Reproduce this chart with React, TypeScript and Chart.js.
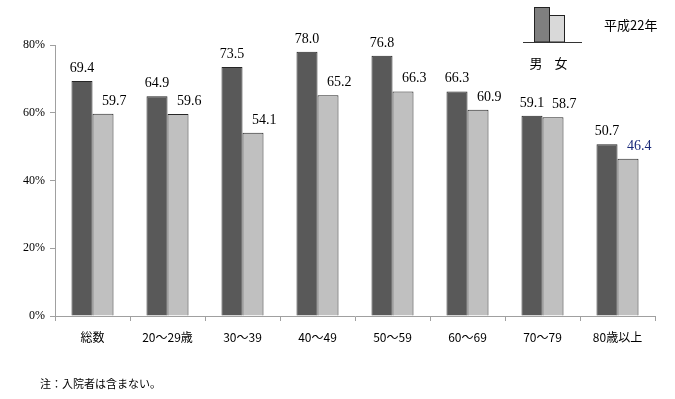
import React, { useEffect, useRef } from "react";
import { Chart, registerables } from "chart.js";

Chart.register(...registerables);

const categories = ["総数", "20～29歳", "30～39", "40～49", "50～59", "60～69", "70～79", "80歳以上"];
const male = [69.4, 64.9, 73.5, 78.0, 76.8, 66.3, 59.1, 50.7];
const female = [59.7, 59.6, 54.1, 65.2, 66.3, 60.9, 58.7, 46.4];
const yTicks = [0, 20, 40, 60, 80];
const legendLabels = ["男", "女"];
const yearLabel = "平成22年";
const note = "注：入院者は含まない。";

const SERIF = "'Liberation Serif', 'DejaVu Serif', serif";
const JP = "'Noto Sans CJK JP', sans-serif";

const overlay = {
  id: "overlay",
  afterDatasetsDraw(chart: any) {
    const ctx = chart.ctx;
    ctx.save();
    // value labels
    ctx.font = `14px ${SERIF}`;
    ctx.textBaseline = "alphabetic";
    chart.data.datasets.forEach((ds: any, di: number) => {
      const meta = chart.getDatasetMeta(di);
      meta.data.forEach((bar: any, i: number) => {
        const v = ds.data[i];
        ctx.fillStyle = di === 1 && i === 7 ? "#1a2a7a" : "#000";
        if (di === 0) {
          ctx.textAlign = "center";
          ctx.fillText(v.toFixed(1), bar.x, bar.y - 9);
        } else {
          ctx.textAlign = "left";
          ctx.fillText(v.toFixed(1), bar.x - 1, bar.y - 9);
        }
      });
    });
    // legend icon
    ctx.fillStyle = "#7f7f7f";
    ctx.fillRect(534, 7, 15, 35);
    ctx.strokeStyle = "#222";
    ctx.lineWidth = 1;
    ctx.strokeRect(534.5, 7.5, 15, 34.5);
    ctx.fillStyle = "#d9d9d9";
    ctx.fillRect(549, 15, 15, 27);
    ctx.strokeRect(549.5, 15.5, 15, 26.5);
    ctx.strokeStyle = "#333";
    ctx.beginPath();
    ctx.moveTo(523, 42.5);
    ctx.lineTo(582, 42.5);
    ctx.stroke();
    ctx.fillStyle = "#000";
    ctx.font = `13px ${JP}`;
    ctx.textAlign = "center";
    ctx.textBaseline = "middle";
    ctx.fillText(legendLabels[0], 536, 63);
    ctx.fillText(legendLabels[1], 561, 63);
    ctx.textAlign = "left";
    ctx.fillText(yearLabel, 604, 25);
    ctx.font = `11px ${JP}`;
    ctx.fillText(note, 40, 384);
    ctx.restore();
  },
};

export default function App() {
  const ref = useRef<HTMLCanvasElement>(null);
  useEffect(() => {
    const chart = new Chart(ref.current!, {
      type: "bar",
      data: {
        labels: categories,
        datasets: [
          {
            data: male,
            backgroundColor: "#595959",
            borderColor: "#262626",
            borderWidth: 1,
            categoryPercentage: 0.56,
            barPercentage: 1,
          },
          {
            data: female,
            backgroundColor: "#c0c0c0",
            borderColor: "#262626",
            borderWidth: 1,
            categoryPercentage: 0.56,
            barPercentage: 1,
          },
        ],
      },
      options: {
        animation: false,
        responsive: false,
        maintainAspectRatio: false,
        layout: { padding: { top: 45, right: 20, left: 0, bottom: 0 } },
        plugins: { legend: { display: false }, tooltip: { enabled: false } },
        scales: {
          x: {
            grid: {
              offset: true,
              drawOnChartArea: false,
              drawTicks: true,
              tickLength: 5,
              color: "#a0a0a0",
            },
            border: { color: "#a0a0a0", width: 1 },
            ticks: {
              font: { family: JP, size: 12 },
              color: "#000",
              padding: 9,
              maxRotation: 0,
              autoSkip: false,
            },
            afterFit(scale: any) {
              scale.height = 83;
            },
          },
          y: {
            min: 0,
            max: 80,
            afterBuildTicks(scale: any) {
              scale.ticks = yTicks.map((v) => ({ value: v }));
            },
            grid: {
              drawOnChartArea: false,
              drawTicks: true,
              tickLength: 5,
              color: "#a0a0a0",
            },
            border: { color: "#a0a0a0", width: 1 },
            ticks: {
              font: { family: SERIF, size: 12 },
              color: "#000",
              padding: 5,
              callback: (v: any) => `${v}%`,
            },
            afterFit(scale: any) {
              scale.width = 55;
            },
          },
        },
      },
      plugins: [overlay],
    });
    return () => chart.destroy();
  }, []);
  return (
    <div style={{ position: "absolute", left: 0, top: 0, width: 675, height: 399, background: "#fff" }}>
      <canvas ref={ref} width={675} height={399} style={{ display: "block" }} />
    </div>
  );
}
